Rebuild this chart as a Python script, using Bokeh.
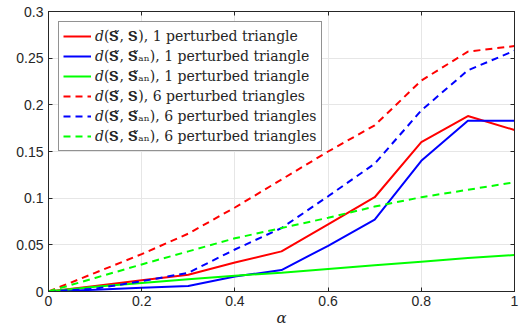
from bokeh.plotting import figure
from bokeh.models import Legend, LegendItem, LinearAxis, FixedTicker, CustomJSTickFormatter, Range1d
from bokeh.embed import file_html
from bokeh.resources import INLINE

alpha = [0, 0.1, 0.2, 0.3, 0.4, 0.5, 0.6, 0.7, 0.8, 0.9, 1.0]

red_1 = [0, 0.006, 0.012, 0.018, 0.031, 0.043, 0.072, 0.101, 0.160, 0.188, 0.173]
blue_1 = [0, 0.002, 0.004, 0.006, 0.016, 0.023, 0.049, 0.077, 0.140, 0.183, 0.183]
green_1 = [0, 0.005, 0.009, 0.013, 0.017, 0.020, 0.024, 0.028, 0.032, 0.036, 0.039]
red_6 = [0, 0.020, 0.040, 0.062, 0.090, 0.120, 0.150, 0.178, 0.226, 0.257, 0.263]
blue_6 = [0, 0.003, 0.011, 0.020, 0.045, 0.068, 0.102, 0.137, 0.194, 0.237, 0.258]
green_6 = [0, 0.0145, 0.029, 0.043, 0.057, 0.068, 0.079, 0.091, 0.101, 0.109, 0.117]

S = "\U0001D412"
d = "\U0001D451"
St = S + "\u0303"
labels = [
    f"{d}({St}, {S}), 1 perturbed triangle",
    f"{d}({St}, {St}\u2090\u2099), 1 perturbed triangle",
    f"{d}({S}, {St}\u2090\u2099), 1 perturbed triangle",
    f"{d}({St}, {S}), 6 perturbed triangles",
    f"{d}({St}, {St}\u2090\u2099), 6 perturbed triangles",
    f"{d}({S}, {St}\u2090\u2099), 6 perturbed triangles",
]

x_ticks = [0, 0.2, 0.4, 0.6, 0.8, 1.0]
x_tick_labels = ["0", "0.2", "0.4", "0.6", "0.8", "1"]
y_ticks = [0, 0.05, 0.1, 0.15, 0.2, 0.25, 0.3]
y_tick_labels = ["0", "0.05", "0.1", "0.15", "0.2", "0.25", "0.3"]

AX = "#262626"

p = figure(width=519, height=329, output_backend="svg", toolbar_location=None,
           x_range=Range1d(0, 1), y_range=Range1d(0, 0.3),
           min_border_left=48, min_border_right=5, min_border_top=11, min_border_bottom=37)
p.outline_line_color = AX
p.outline_line_width = 1
p.background_fill_color = "white"
p.border_fill_color = "white"

series = [
    (red_1, "#ff0000", "solid"),
    (blue_1, "#0000ff", "solid"),
    (green_1, "#00ff00", "solid"),
    (red_6, "#ff0000", "7 5"),
    (blue_6, "#0000ff", "7 5"),
    (green_6, "#00ff00", "7 5"),
]
items = []
for (ys, c, dash), lab in zip(series, labels):
    r = p.line(alpha, ys, line_color=c, line_width=2, line_dash=dash)
    items.append(LegendItem(label=lab, renderers=[r]))

for ax, ticks, labs in ((p.xaxis[0], x_ticks, x_tick_labels), (p.yaxis[0], y_ticks, y_tick_labels)):
    ax.ticker = FixedTicker(ticks=ticks)
    ax.major_label_overrides = {t: l for t, l in zip(ticks, labs)}
    ax.major_tick_in = 4
    ax.major_tick_out = 0
    ax.minor_tick_line_color = None
    ax.axis_line_color = AX
    ax.major_tick_line_color = AX
    ax.major_label_text_color = AX
    ax.major_label_text_font = "Liberation Sans"
    ax.major_label_text_font_size = "14px"

p.xaxis[0].major_label_standoff = 4
p.yaxis[0].major_label_standoff = 5
p.xaxis[0].axis_label = "\u03b1"
p.xaxis[0].axis_label_text_font = "DejaVu Serif"
p.xaxis[0].axis_label_text_font_style = "italic"
p.xaxis[0].axis_label_text_font_size = "15px"
p.xaxis[0].axis_label_text_color = AX
p.xaxis[0].axis_label_standoff = 0

blank = CustomJSTickFormatter(code="return ''")
for loc, ticks in (("right", y_ticks), ("above", x_ticks)):
    ax2 = LinearAxis(ticker=FixedTicker(ticks=ticks), formatter=blank,
                     major_tick_in=4, major_tick_out=0, minor_tick_line_color=None,
                     axis_line_color=AX, major_tick_line_color=AX, major_label_standoff=0)
    p.add_layout(ax2, loc)

p.grid.grid_line_color = "#e6e6e6"
p.grid.grid_line_width = 1
p.xgrid.ticker = FixedTicker(ticks=x_ticks)
p.ygrid.ticker = FixedTicker(ticks=y_ticks)

legend = Legend(items=items, location="top_left", margin=10, padding=4, spacing=0,
                label_height=20, glyph_height=20, glyph_width=28, label_standoff=4,
                label_text_font="DejaVu Serif", label_text_font_size="14px",
                label_text_color=AX, border_line_color=AX, border_line_width=1,
                background_fill_alpha=1)
p.add_layout(legend)

open("out.html", "w").write(file_html(p, INLINE))
